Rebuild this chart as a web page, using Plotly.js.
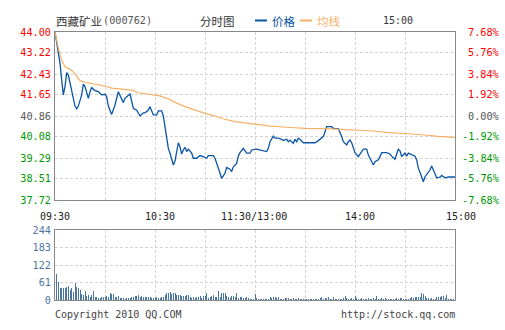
<!DOCTYPE html>
<html><head><meta charset="utf-8">
<script src="https://cdn.plot.ly/plotly-3.0.1.min.js"></script>
<style>html,body{margin:0;padding:0;background:#fff;}#chart{width:505px;height:330px;}</style>
</head><body><div id="chart"></div>
<script>
// ---- data (minutes since 09:30, trading minutes) ----
const priceMinutes = [0,1,3,4,5,6,7,8,10,12,13,14,16,17,18,20,21,22,24,26,28,30,31,32,34,36,38,39,41,42,45,47,49,51,53,54,56,57,58,59,61,62,64,65,66,67,68,69,71,72,73,74,75,76,77,78,79,80,82,83,85,87,89,91,92,95,96,97,99,100,102,103,105,106,107,109,110,111,113,115,117,118,121,123,125,127,128,129,131,132,134,136,137,139,140,141,143,144,145,146,147,149,151,156,158,160,161,162,163,166,167,170,171,172,173,175,176,177,178,179,180,182,183,185,187,188,190,191,192,194,195,196,199,201,202,204,205,206,207,208,210,211,212,214,216,217,218,220,221,222,224,225,226,228,229,231,232,234,236,240];
const priceValues = [44.00,43.58,42.83,42.21,41.65,41.96,42.48,42.39,41.83,41.23,41.13,41.23,41.65,42.05,41.96,41.52,41.77,41.92,41.81,41.77,41.65,41.67,41.58,41.23,40.92,41.27,41.77,41.65,41.36,41.52,41.68,41.15,41.08,40.86,40.98,40.98,41.08,41.21,41.08,40.90,40.90,41.05,41.05,40.86,40.46,40.09,39.65,39.47,39.03,39.18,39.59,39.86,39.71,39.44,39.59,39.69,39.53,39.62,39.47,39.28,39.28,39.38,39.34,39.28,39.38,39.38,39.28,39.09,38.78,38.53,38.72,38.94,38.87,38.78,38.96,39.09,39.36,39.49,39.65,39.47,39.47,39.59,39.62,39.59,39.56,39.53,39.65,39.90,40.11,40.03,40.03,39.99,39.94,39.99,39.90,39.96,39.84,39.99,39.90,40.03,39.99,39.86,39.86,39.86,39.94,40.03,40.09,40.27,40.46,40.46,40.40,40.39,40.27,40.09,39.90,39.78,39.90,39.96,39.86,39.71,39.49,39.34,39.44,39.62,39.62,39.40,39.15,39.03,39.15,39.22,39.34,39.49,39.49,39.44,39.36,39.24,39.44,39.62,39.56,39.34,39.47,39.36,39.47,39.40,39.36,39.22,38.91,38.59,38.40,38.59,38.78,38.84,38.99,38.72,38.55,38.57,38.64,38.55,38.58,38.58];
const avgMinutes = [0,2,4,6,8,11,13,15,18,22,26,30,34,40,46,50,56,63,68,72,78,84,90,96,102,108,114,120,128,139,150,163,173,183,191,199,210,220,230,240];
const avgValues = [44.00,43.39,42.95,42.70,42.64,42.52,42.33,42.18,42.12,42.08,42.02,41.98,41.90,41.86,41.83,41.73,41.67,41.61,41.50,41.37,41.21,41.08,40.96,40.86,40.74,40.65,40.60,40.55,40.49,40.44,40.40,40.39,40.36,40.34,40.30,40.25,40.21,40.16,40.10,40.06];
const volumes = [89,64,43,43,43,43,46,50,35,43, 29,60,46,43,36,22,19,33,15,19, 12,17,33,12,12,8,8,12,12,12, 15,12,26,22,22,12,12,15,8,8, 8,5,8,8,8,12,12,15,15,19, 12,15,12,12,12,12,12,8,8,8, 12,8,8,12,12,19,26,26,29,22, 26,26,19,19,19,15,15,15,19,19, 12,8,12,8,12,12,15,8,15,15, 26,8,12,15,19,12,12,33,12,26, 26,26,15,12,8,15,15,12,26,8, 12,12,8,8,12,8,5,5,5,
 20,8,5,5,5,5,5,5,5,12, 8,12,12,8,12,5,5,5,8,8, 8,5,5,8,5,5,8,5,5,5, 5,5,2,2,5,5,5,5,5,8, 12,5,8,8,12,5,5,12,2,5, 5,5,5,8,15,8,5,5,8,5, 15,8,5,5,8,5,5,5,8,5, 5,8,5,15,5,5,8,5,8,5, 5,5,5,5,5,8,5,8,8,5, 5,5,5,8,12,8,12,12,12,12, 26,22,15,8,8,5,8,5,5,12, 12,12,15,15,8,19,5,5,5,5, 14];
const priceTicks = [44.00,43.22,42.43,41.65,40.86,40.08,39.29,38.51,37.72];
const pctLabels = ["7.68%","5.76%","3.84%","1.92%","0.00%","-1.92%","-3.84%","-5.76%","-7.68%"];
const volTicks = [0,61,122,183,244];
const timeTicks = [0,60,120,180,240];
const timeLabels = ["09:30","10:30","11:30/13:00","14:00","15:00"];
const prevClose = 40.86;

// ---- styling ----
const RED = "#ff0000", GREEN = "#009900", GRAY = "#555555";
const MONO = "DejaVu Sans Mono, monospace";
const CJK = "Noto Sans CJK SC, DejaVu Sans Mono, sans-serif";
function colorFor(v){ return Math.abs(v-prevClose)<0.005 ? GRAY : (v>prevClose ? RED : GREEN); }

const volX = volumes.map((v,i)=>i+1);

const traces = [
  {x: priceMinutes, y: priceValues, type:"scatter", mode:"lines", line:{color:"#0a55a5", width:1.3}, xaxis:"x", yaxis:"y", hoverinfo:"skip"},
  {x: avgMinutes, y: avgValues, type:"scatter", mode:"lines", line:{color:"#f6b168", width:1.2}, xaxis:"x", yaxis:"y", hoverinfo:"skip"},
  {x: volX, y: volumes, type:"bar", marker:{color:"#4a76a2", line:{width:0}}, width:0.6, xaxis:"x2", yaxis:"y2", hoverinfo:"skip"}
];

const grid = {showgrid:true, gridcolor:"#d4d4d4", griddash:"3px,2px", gridwidth:1};
const frame = {showline:true, mirror:true, linecolor:"#888888", linewidth:1, zeroline:false};

const annotations = [];
// right percentage labels
priceTicks.forEach((v,i)=>{
  annotations.push({xref:"paper", yref:"y", x:(499.5-55)/400, y:v, xanchor:"right", yanchor:"middle",
    text:pctLabels[i], showarrow:false, borderpad:0, font:{family:MONO, size:10.2, color:colorFor(v)}});
});
// time labels
const timeShift = [-0.5,5,-1,5,5.5];
timeTicks.forEach((t,i)=>{
  annotations.push({xref:"x", yref:"paper", x:t, xshift:timeShift[i], y:(300-216.5)/268, xanchor:"center", yanchor:"middle",
    text:timeLabels[i], showarrow:false, borderpad:0, font:{family:MONO, size:10, color:"#222"}});
});
const topY = (300-21)/268;
annotations.push({xref:"paper", yref:"paper", x:0, y:topY, xanchor:"left", yanchor:"middle", text:"西藏矿业", showarrow:false, borderpad:0, font:{family:CJK, size:11.5, color:"#333"}});
annotations.push({xref:"paper", yref:"paper", x:(101.5-55)/400, y:topY, xanchor:"left", yanchor:"middle", text:"(000762)", showarrow:false, borderpad:0, font:{family:MONO, size:10.2, color:"#555"}});
annotations.push({xref:"paper", yref:"paper", x:(217-55)/400, y:topY, xanchor:"center", yanchor:"middle", text:"分时图", showarrow:false, borderpad:0, font:{family:CJK, size:11.5, color:"#333"}});
annotations.push({xref:"paper", yref:"paper", x:(270.5-55)/400, y:topY, xanchor:"left", yanchor:"middle", text:"价格", showarrow:false, borderpad:0, font:{family:CJK, size:11.5, color:"#0a55a5"}});
annotations.push({xref:"paper", yref:"paper", x:(315.5-55)/400, y:topY, xanchor:"left", yanchor:"middle", text:"均线", showarrow:false, borderpad:0, font:{family:CJK, size:11.5, color:"#f6b168"}});
annotations.push({xref:"paper", yref:"paper", x:(381.5-55)/400, y:topY, xanchor:"left", yanchor:"middle", text:"15:00", showarrow:false, borderpad:0, font:{family:MONO, size:10, color:"#333"}});
annotations.push({xref:"paper", yref:"paper", x:(54-55)/400, y:(300-314.5)/268, xanchor:"left", yanchor:"middle", text:"Copyright 2010 QQ.COM", showarrow:false, borderpad:0, font:{family:MONO, size:10, color:"#444"}});
annotations.push({xref:"paper", yref:"paper", x:(456.5-55)/400, y:(300-314.5)/268, xanchor:"right", yanchor:"middle", text:"http://stock.qq.com", showarrow:false, borderpad:0, font:{family:MONO, size:10, color:"#444"}});

const shapes = [
  {type:"line", xref:"paper", yref:"paper", x0:(255-55)/400, x1:(267-55)/400, y0:(300-20.5)/268, y1:(300-20.5)/268, line:{color:"#0a55a5", width:2}},
  {type:"line", xref:"paper", yref:"paper", x0:(300-55)/400, x1:(312-55)/400, y0:(300-20.5)/268, y1:(300-20.5)/268, line:{color:"#f6b168", width:2}}
];

const layout = {
  width:505, height:330,
  margin:{l:55, r:50, t:32, b:30, pad:0},
  paper_bgcolor:"#fff", plot_bgcolor:"#fff",
  showlegend:false,
  xaxis: Object.assign({domain:[0,1], range:[0,240], tickmode:"linear", tick0:0, dtick:30, showticklabels:false, ticks:"", anchor:"y", fixedrange:true}, grid, frame),
  yaxis: Object.assign({domain:[100/268,1], range:[37.72,44.00], tickmode:"array", tickvals:priceTicks,
    ticktext:priceTicks.map(v=>'<span style="color:'+colorFor(v)+'">'+v.toFixed(2)+'</span>'),
    tickfont:{family:MONO, size:10.2, color:GRAY}, ticks:"", ticklabelstandoff:1, anchor:"x"}, grid, frame),
  xaxis2: Object.assign({domain:[0,1], range:[0,240], tickmode:"linear", tick0:0, dtick:30, showticklabels:false, ticks:"", anchor:"y2"}, grid, frame),
  yaxis2: Object.assign({domain:[0,70/268], range:[0,244], tickmode:"array", tickvals:volTicks, ticktext:volTicks.map(String),
    tickfont:{family:MONO, size:10.2, color:"#4e76a2"}, ticks:"", ticklabelstandoff:1, anchor:"x2"}, grid, frame),
  bargap:0,
  annotations: annotations,
  shapes: shapes
};

Plotly.newPlot("chart", traces, layout, {staticPlot:true, displayModeBar:false});
</script></body></html>
